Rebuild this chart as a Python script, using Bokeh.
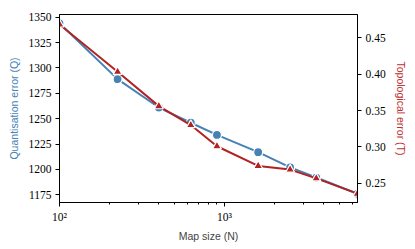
from bokeh.plotting import figure
from bokeh.models import Range1d, LinearAxis, FixedTicker, NumeralTickFormatter
from bokeh.embed import file_html
from bokeh.resources import INLINE

map_size = [100, 225, 400, 625, 900, 1600, 2500, 3600, 6400]
quant_error = [1344, 1289, 1261, 1246, 1234, 1217, 1202, 1192, 1176]
topo_error = [0.468, 0.403, 0.356, 0.330, 0.301, 0.274, 0.269, 0.257, 0.236]

x_major = [100, 1000]
x_minor = [200, 300, 400, 500, 600, 700, 800, 900, 2000, 3000, 4000, 5000, 6000]
x_labels = {100: "10²", 1000: "10³"}
q_ticks = [1175, 1200, 1225, 1250, 1275, 1300, 1325, 1350]
t_ticks = [0.25, 0.30, 0.35, 0.40, 0.45]

BLUE = "#4682b4"
RED = "#b22222"
SERIF = "Liberation Serif"
SANS = "Liberation Sans"

p = figure(frame_width=298, frame_height=188, x_axis_type="log",
           x_range=Range1d(100, 6400), y_range=Range1d(1167.4, 1352.7),
           output_backend="svg", toolbar_location=None,
           min_border_left=59, min_border_right=50, min_border_top=14, min_border_bottom=39)
p.extra_y_ranges = {"topo": Range1d(0.2239, 0.4816)}

p.xgrid.visible = False
p.ygrid.visible = False
p.outline_line_color = "black"
p.outline_line_width = 1
p.background_fill_color = "white"
p.border_fill_color = "white"

xa = p.xaxis[0]
xa.ticker = FixedTicker(ticks=x_major, minor_ticks=x_minor)
xa.major_label_overrides = x_labels
xa.axis_label = "Map size (N)"

ya = p.yaxis[0]
ya.ticker = FixedTicker(ticks=q_ticks)
ya.axis_label = "Quantisation error (Q)"
ya.axis_label_text_color = BLUE

ra = LinearAxis(y_range_name="topo", ticker=FixedTicker(ticks=t_ticks),
                formatter=NumeralTickFormatter(format="0.00"),
                axis_label="Topological error (T)")
ra.axis_label_text_color = "#c03030"
p.add_layout(ra, "right")

for ax in [xa, ya, ra]:
    ax.axis_line_color = "black"
    ax.axis_line_width = 1
    ax.major_tick_out = 4
    ax.major_tick_in = 0
    ax.minor_tick_out = 2
    ax.minor_tick_in = 0
    ax.major_tick_line_color = "black"
    ax.minor_tick_line_color = "black"
    ax.major_label_text_font = SERIF
    ax.major_label_text_font_size = "11.5px"
    ax.major_label_text_color = "black"
    ax.axis_label_text_font = SANS
    ax.axis_label_text_font_size = "10.5px"
    ax.axis_label_text_font_style = "normal"
    ax.axis_label_standoff = 6
    ax.major_label_standoff = 4
ya.minor_tick_line_color = None
ra.minor_tick_line_color = None
xa.axis_label_standoff = 4

p.line(map_size, quant_error, line_color=BLUE, line_width=2)
p.scatter(map_size, quant_error, marker="circle", size=9, fill_color=BLUE,
          line_color="white", line_width=1.2)

p.line(map_size, topo_error, line_color=RED, line_width=2, y_range_name="topo")
p.scatter(map_size, topo_error, marker="triangle", size=9, fill_color=RED,
          line_color="white", line_width=1.2, y_range_name="topo")

open("out.html", "w").write(file_html(p, INLINE))
